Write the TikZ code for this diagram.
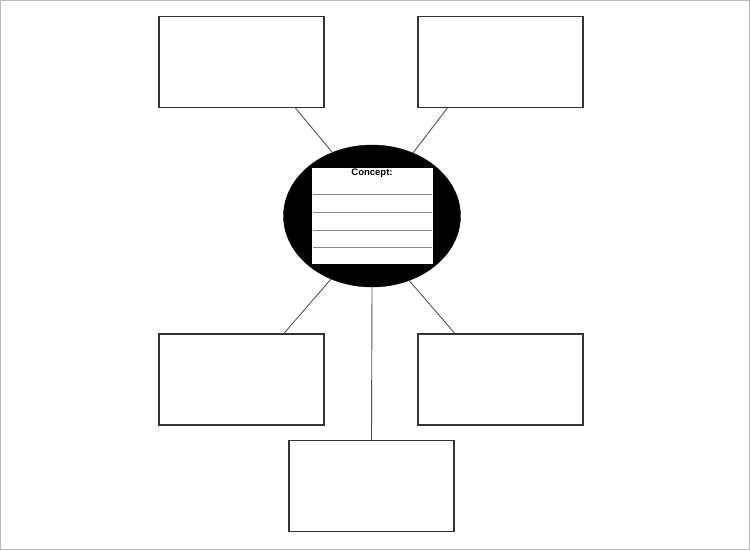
\documentclass[tikz,border=0pt]{standalone}
\usepackage{fontspec}
\setmainfont{Liberation Sans}
\usetikzlibrary{shapes.geometric,calc}
\definecolor{boxline}{HTML}{333333}
\definecolor{conline}{HTML}{555555}
\definecolor{frameline}{HTML}{BBBBBB}
\definecolor{ruleline}{HTML}{888888}
\tikzset{
  framebox/.style={draw=boxline, line width=1.1pt, minimum width=165pt, minimum height=91pt, inner sep=0pt, fill=white},
  conn/.style={draw=conline, line width=0.9pt},
  conceptoval/.style={ellipse, fill=black, draw=black, minimum width=177pt, minimum height=142pt, inner sep=0pt},
  notebox/.style={fill=white, draw=none, minimum width=121pt, minimum height=96pt, inner sep=0pt},
  rule/.style={draw=ruleline, line width=0.9pt}
}
\begin{document}
\begin{tikzpicture}[x=1pt,y=-1pt]
\useasboundingbox (0,0) rectangle (750,550);
\fill[white] (0,0) rectangle (750,550);
\draw[frameline, line width=1pt] (0.5,0.5) rectangle (749.5,549.5);
% boxes
\node[framebox] (tl) at (241.5,62) {};
\node[framebox] (tr) at (500.5,62) {};
\node[framebox] (bl) at (241.5,379.5) {};
\node[framebox] (br) at (500.5,379.5) {};
\node[framebox] (bc) at (371.5,486) {};
% central oval
\node[conceptoval] (ov) at (372,216) {};
\node[notebox] (nb) at (372.5,216) {};
\node[font=\bfseries\fontsize{9.5}{11}\selectfont, inner sep=0pt] (ct) at (372,173) {Concept:};
\foreach \yy/\nm in {194/r1,212/r2,230/r3,247/r4}{
  \coordinate (\nm a) at (313,\yy);
  \coordinate (\nm b) at (432,\yy);
  \draw[rule] (\nm a) -- (\nm b);
}
% connectors
\coordinate (tlp) at ($(tl.south west)!0.825!(tl.south east)$);
\coordinate (trp) at ($(tr.south west)!0.18!(tr.south east)$);
\coordinate (blp) at ($(bl.north west)!0.755!(bl.north east)$);
\coordinate (brp) at ($(br.north west)!0.225!(br.north east)$);
\draw[conn] (tlp) -- (ov.122);
\draw[conn] (trp) -- (ov.57);
\draw[conn] (blp) -- (ov.237);
\draw[conn] (brp) -- (ov.300);
\draw[conn] (ov.south) -- (bc.north);
\end{tikzpicture}
\end{document}
